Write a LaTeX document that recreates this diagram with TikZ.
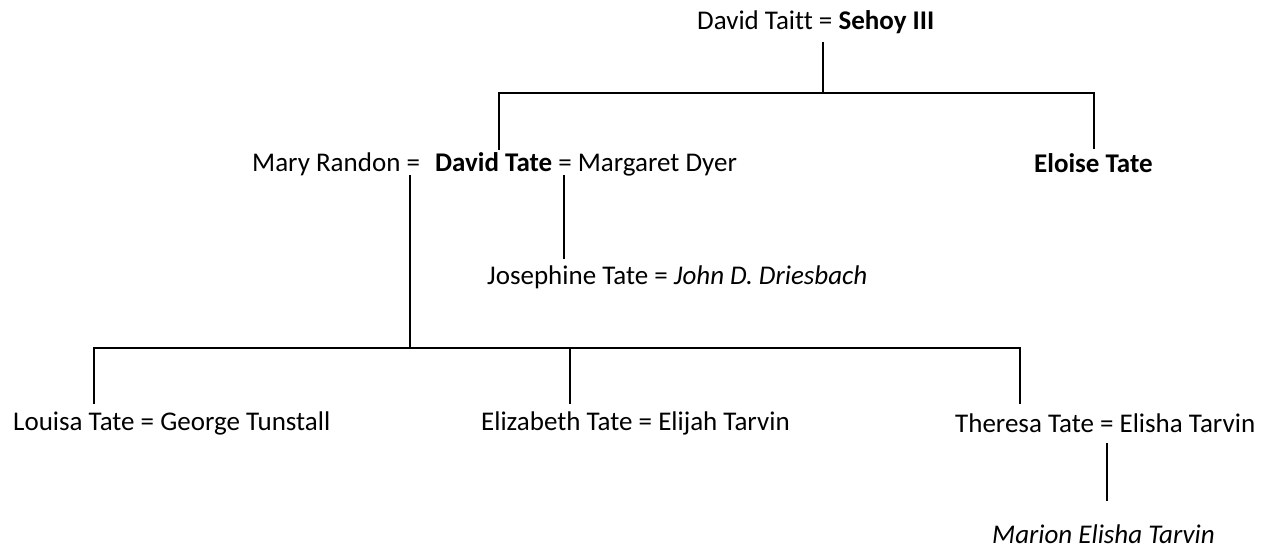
\documentclass[tikz,border=0pt]{standalone}
\usepackage{fontspec}
\setmainfont{Carlito}[Ligatures={NoCommon}]
\begin{document}
\begin{tikzpicture}[x=1pt,y=-1pt,
  lbl/.style={anchor=base west,inner sep=0pt,font=\fontsize{27}{31}\selectfont},
  conn/.style={line width=2.8pt,line cap=rect}]
\useasboundingbox (0,0) rectangle (1262,550);
% names
\node[lbl] (top) at (697,29) {David Taitt = \textbf{Sehoy III}};
\node[lbl] (mary) at (252,171) {Mary Randon =};
\node[lbl] (david) at (435,171) {\textbf{David Tate} = Margaret Dyer};
\node[lbl] (eloise) at (1034,172) {\textbf{Eloise Tate}};
\node[lbl] (jos) at (487,284) {Josephine Tate = \textit{John D. Driesbach}};
\node[lbl] (lou) at (13,430) {Louisa Tate = George Tunstall};
\node[lbl] (eliz) at (481,430) {Elizabeth Tate = Elijah Tarvin};
\node[lbl] (ther) at (955,432) {Theresa Tate = Elisha Tarvin};
\node[lbl] (mar) at (992,543) {\textit{Marion Elisha Tarvin}};
% junction points
\coordinate (t0) at (823,43);
\coordinate (t1) at (823,93);
\coordinate (dl) at (499,93);
\coordinate (dr) at (1094,93);
\coordinate (d0) at (499,149);
\coordinate (e0) at (1094,148);
\coordinate (j0) at (564,176);
\coordinate (j1) at (564,258);
\coordinate (m0) at (410,176);
\coordinate (m1) at (410,348);
\coordinate (cl) at (94,348);
\coordinate (cr) at (1020,348);
\coordinate (c1) at (570,348);
\coordinate (l0) at (94,403);
\coordinate (z0) at (570,403);
\coordinate (h0) at (1020,403);
\coordinate (k0) at (1107,444);
\coordinate (k1) at (1107,500);
% connectors
\draw[conn] (t0) -- (t1);
\draw[conn] (d0) -- (dl) -- (dr) -- (e0);
\draw[conn] (j0) -- (j1);
\draw[conn] (m0) -- (m1);
\draw[conn] (l0) -- (cl) -- (cr) -- (h0);
\draw[conn] (c1) -- (z0);
\draw[conn] (k0) -- (k1);
\end{tikzpicture}
\end{document}
